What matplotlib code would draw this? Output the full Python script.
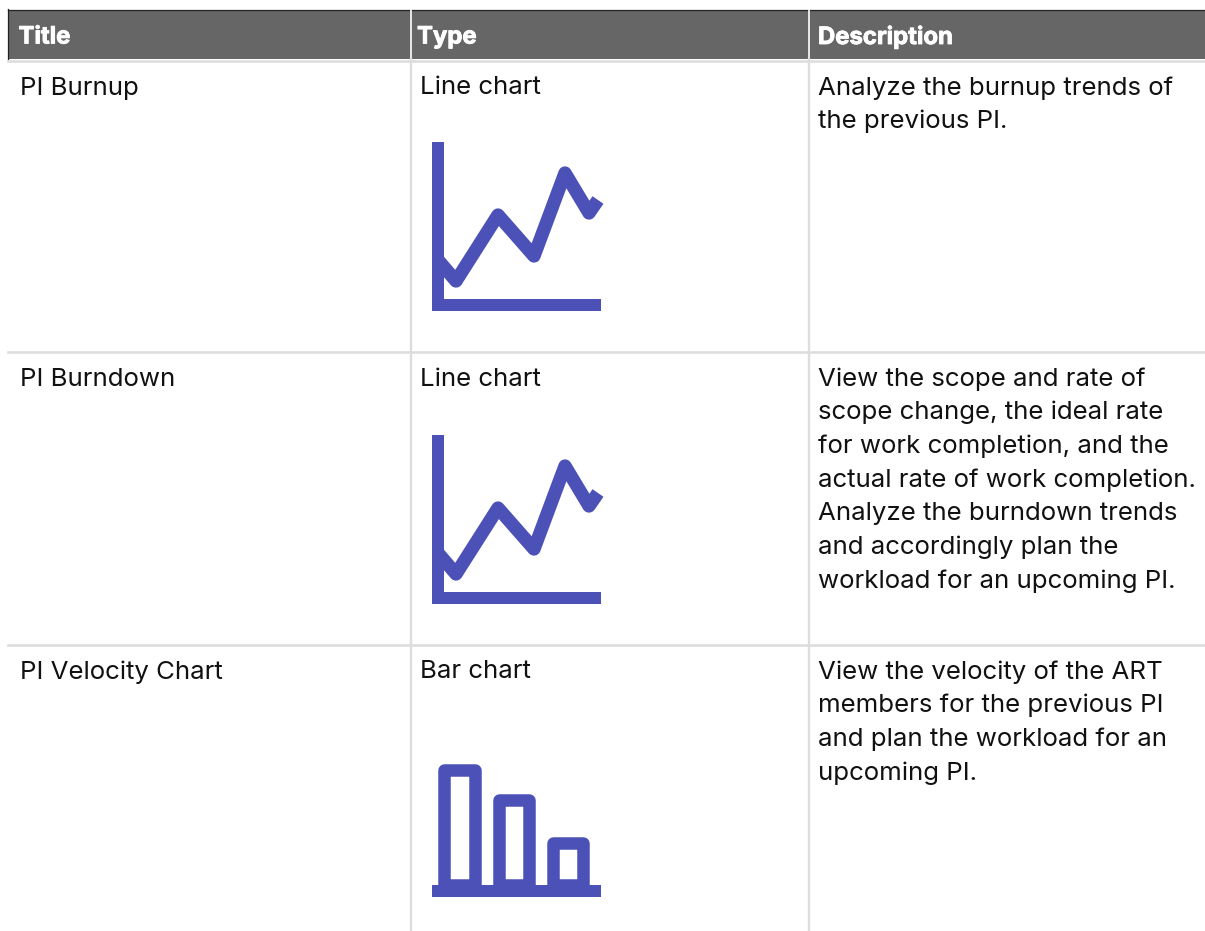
import matplotlib
matplotlib.use("Agg")
import matplotlib.pyplot as plt
from matplotlib.patches import Rectangle
import matplotlib.patheffects as pe

headers = ["Title", "Type", "Description"]
titles = ["PI Burnup", "PI Burndown", "PI Velocity Chart"]
types = ["Line chart", "Line chart", "Bar chart"]
descriptions = [
    ["Analyze the burnup trends of", "the previous PI."],
    ["View the scope and rate of", "scope change, the ideal rate", "for work completion, and the",
     "actual rate of work completion.", "Analyze the burndown trends", "and accordingly plan the",
     "workload for an upcoming PI."],
    ["View the velocity of the ART", "members for the previous PI", "and plan the workload for an",
     "upcoming PI."],
]

# icon shapes, pixels relative to the icon top left corner
line_x = [6, 24, 66, 102, 133, 157, 166]
line_y = [118, 139, 73, 114, 31, 71, 58]
bar_left = [12, 67, 121]
bar_width = [31, 30, 30]
bar_height = [115, 85, 42]

col_x = [8, 410, 808]
row_y = [61, 352, 645]
icon_top = [142, 435, 764]
ink = "#4c51b8"

fig = plt.figure(figsize=(12.05, 9.31), dpi=100)
ax = fig.add_axes([0, 0, 1, 1])
ax.set_xlim(0, 1205)
ax.set_ylim(931, 0)
ax.axis("off")

# header band
ax.add_patch(Rectangle((8, 10), 1197, 49, color="#666666", lw=0))
ax.plot([8, 1205], [9.5, 9.5], color="#222222", lw=0.9)
ax.plot([8, 8], [9, 59], color="#222222", lw=0.9)
for x, h in zip([18.5, 417, 818], headers):
    ax.text(x, 35, h, color="white", fontsize=17.2, fontweight="bold", family="Inter",
            va="center_baseline", path_effects=[pe.withStroke(linewidth=0.6, foreground="white")])
for x in col_x[1:]:
    ax.plot([x + 0.5, x + 0.5], [10, 59], color="white", lw=1.2)
    ax.plot([x + 0.5, x + 0.5], [59, 931], color="#dddddd", lw=1.7)
for y in row_y:
    ax.plot([8, 1205], [y - 0.5, y - 0.5], color="#dddddd", lw=1.9)

# cell text
for i, y in enumerate(row_y):
    ax.text(20, y + 24.5, titles[i], fontsize=18.6, family="Inter", color="#111111", va="center_baseline")
    ax.text(420, y + 24.5, types[i], fontsize=18.6, family="Inter", color="#111111", va="center_baseline")
    for k, txt in enumerate(descriptions[i]):
        ax.text(818, y + 24.5 + k * 33.7, txt, fontsize=18.6, family="Inter", color="#111111", va="center_baseline")

# line chart icons
for i in [0, 1]:
    top = icon_top[i]
    ax.plot([432 + x for x in line_x], [top + y for y in line_y], color=ink, lw=9.6,
            solid_joinstyle="round", solid_capstyle="butt")
    ax.add_patch(Rectangle((432, top), 12, 169, color=ink, lw=0))
    ax.add_patch(Rectangle((432, top + 157), 169, 12, color=ink, lw=0))

# bar chart icon
base = 885
for left, w, h in zip(bar_left, bar_width, bar_height):
    ax.bar(432 + left, -h, width=w, bottom=base, align="edge", facecolor="none", edgecolor=ink,
           lw=9, joinstyle="round")
ax.add_patch(Rectangle((432, base), 169, 12, color=ink, lw=0))

fig.savefig("out.png", dpi=100)
